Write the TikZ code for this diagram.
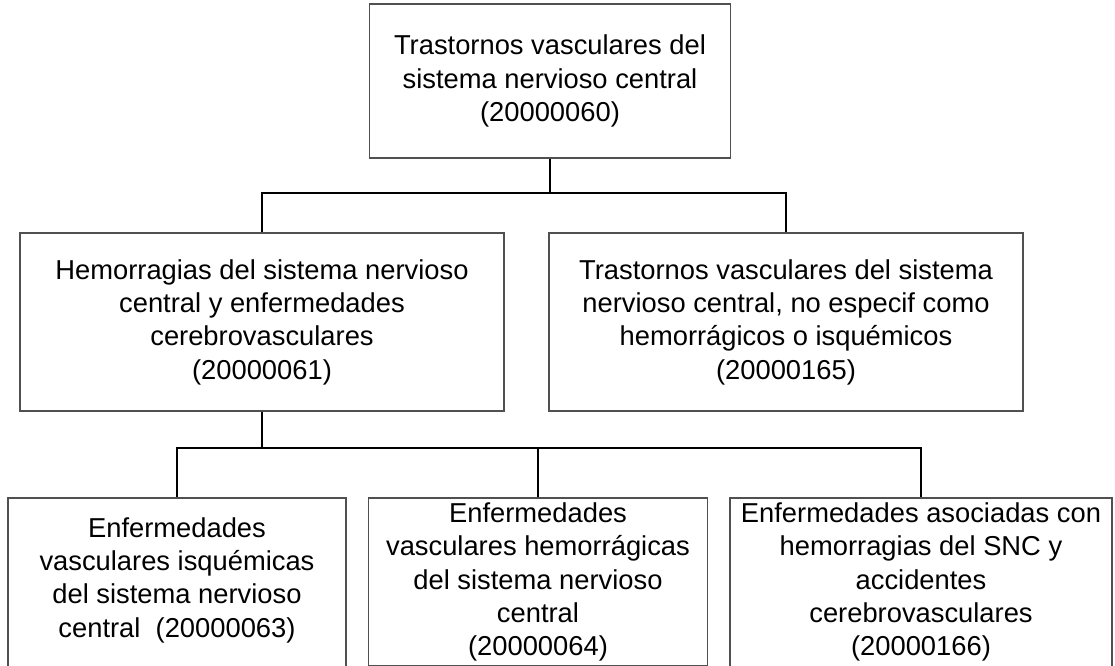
\documentclass[tikz,border=0pt]{standalone}
\usepackage{fontspec}
\setmainfont{Liberation Sans}
\definecolor{boxgray}{RGB}{80,80,80}
\begin{document}
\begin{tikzpicture}[x=0.75pt,y=-0.75pt,
  box/.style={draw=boxgray, line width=0.9pt, align=center, inner sep=0pt,
    font=\fontsize{20.5pt}{25pt}\selectfont},
  link/.style={draw=black, line width=1.5pt}]
\useasboundingbox (0,0) rectangle (1115,666);
\fill[white] (0,0) rectangle (1115,666);

\node[box, minimum width=270.75pt, minimum height=115.5pt] (top) at (550,81)
  {Trastornos vasculares del\\sistema nervioso central\\(20000060)};
\node[box, minimum width=363pt, minimum height=133.5pt] (ml) at (262,322)
  {Hemorragias del sistema nervioso\\central y enfermedades\\cerebrovasculares\\(20000061)};
\node[box, minimum width=355.5pt, minimum height=133.5pt] (mr) at (786,322)
  {Trastornos vasculares del sistema\\nervioso central, no especif como\\hemorrágicos o isquémicos\\(20000165)};
\node[box, minimum width=253.5pt, minimum height=140pt, text depth=21pt] (bl) at (177,591.3)
  {Enfermedades\\vasculares isquémicas\\del sistema nervioso\\central\ \ (20000063)};
\node[box, minimum width=254.25pt, minimum height=126pt] (bm) at (538,582)
  {Enfermedades\\vasculares hemorrágicas\\del sistema nervioso\\central\\(20000064)};
\node[box, minimum width=286.5pt, minimum height=140pt, text depth=18pt] (br) at (921,591.3)
  {Enfermedades asociadas con\\hemorragias del SNC y\\accidentes\\cerebrovasculares\\(20000166)};

\draw[link] (top.south) -- ++(0,34) -| (ml.north);
\draw[link] (top.south) -- ++(0,34) -| (mr.north);
\draw[link] (ml.south) -- ++(0,36) -| (bl.north);
\draw[link] (ml.south) -- ++(0,36) -| (bm.north);
\draw[link] (ml.south) -- ++(0,36) -| (br.north);
\end{tikzpicture}
\end{document}
